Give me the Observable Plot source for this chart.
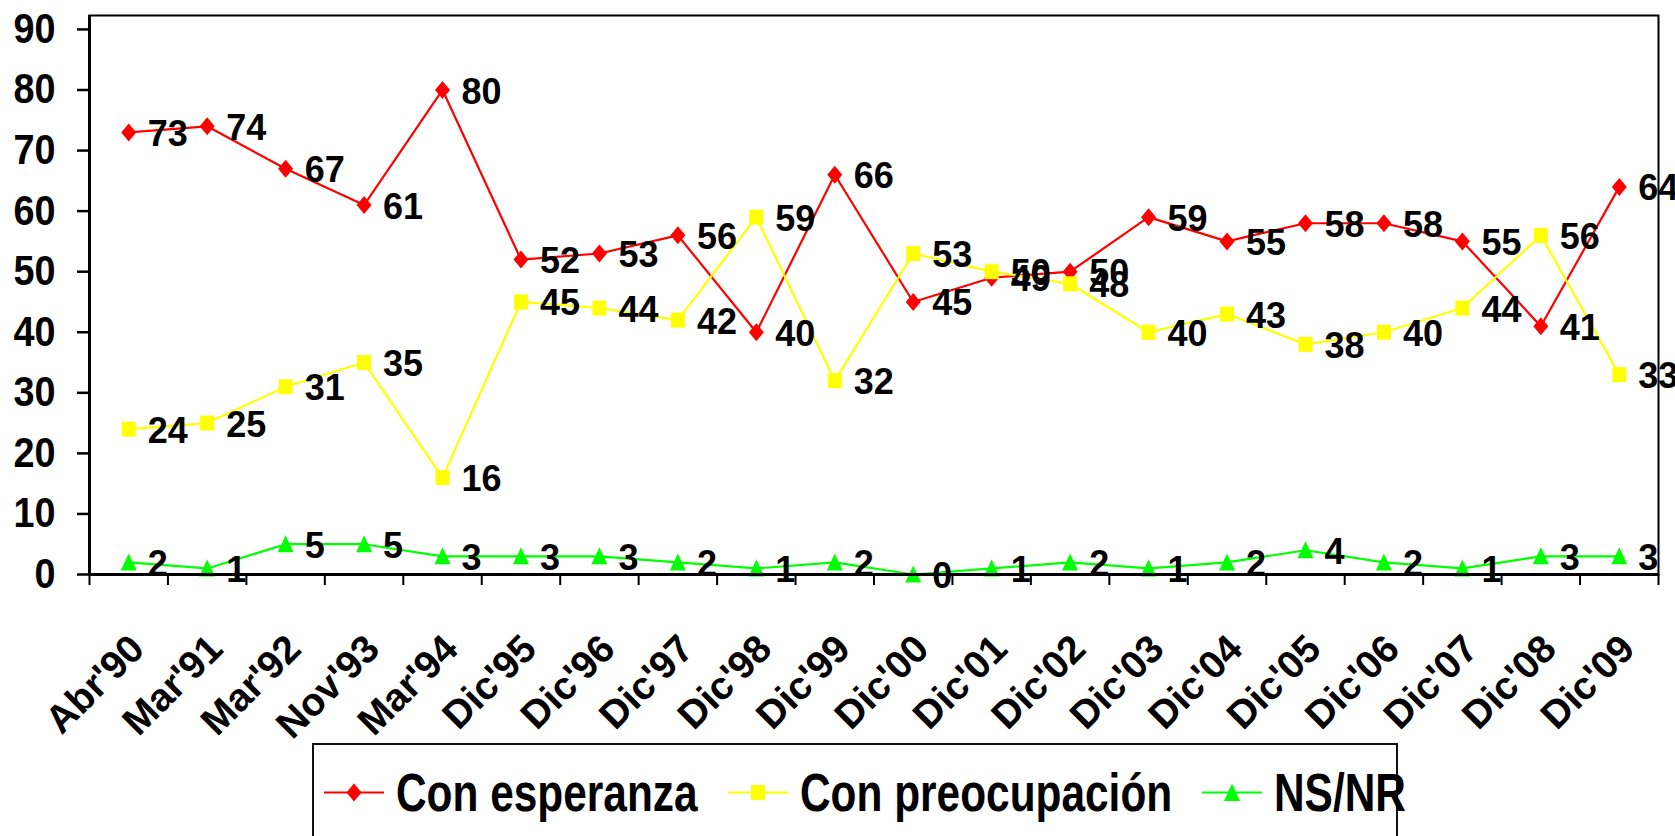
<!DOCTYPE html>
<html>
<head>
<meta charset="utf-8">
<script src="https://cdn.jsdelivr.net/npm/d3@7"></script>
<script src="https://cdn.jsdelivr.net/npm/@observablehq/plot@0.6"></script>
<style>
  html, body { margin: 0; padding: 0; background: #fff; width: 1675px; height: 836px; overflow: hidden; }
  #wrap { position: relative; width: 1675px; height: 836px; }
  #legend { position: absolute; left: 312px; top: 743px; width: 1086px; height: 130px; box-sizing: border-box;
    border: 2px solid #111; display: flex; align-items: flex-start; padding-left: 10px; padding-top: 21px;
    font-family: "Liberation Sans", Arial, sans-serif; font-weight: bold; font-size: 53px; line-height: 1; color: #000; }
  .item { display: flex; align-items: center; margin-right: 30px; height: 53px; }
  .item svg { margin-right: 12px; flex: none; }
  .item span { display: inline-block; transform: scaleX(0.8); transform-origin: left center; white-space: nowrap; }
</style>
</head>
<body>
<div id="wrap"><div id="chart"></div><div id="legend"></div></div>
<script>
const categories = ["Abr'90","Mar'91","Mar'92","Nov'93","Mar'94","Dic'95","Dic'96","Dic'97","Dic'98","Dic'99","Dic'00","Dic'01","Dic'02","Dic'03","Dic'04","Dic'05","Dic'06","Dic'07","Dic'08","Dic'09"];
const esperanza    = [73, 74, 67, 61, 80, 52, 53, 56, 40, 66, 45, 49, 50, 59, 55, 58, 58, 55, 41, 64];
const preocupacion = [24, 25, 31, 35, 16, 45, 44, 42, 59, 32, 53, 50, 48, 40, 43, 38, 40, 44, 56, 33];
const nsnr         = [2, 1, 5, 5, 3, 3, 3, 2, 1, 2, 0, 1, 2, 1, 2, 4, 2, 1, 3, 3];
const yTicks = [0, 10, 20, 30, 40, 50, 60, 70, 80, 90];
const seriesNames = ["Con esperanza", "Con preocupación", "NS/NR"];
const seriesColors = ["#FF0000", "#FFFF00", "#00FF00"];
const seriesValues = [esperanza, preocupacion, nsnr];

const FONT = '"Liberation Sans", Arial, sans-serif';

const diamond = { draw(ctx) { ctx.moveTo(0, -9); ctx.lineTo(7.5, 0); ctx.lineTo(0, 9); ctx.lineTo(-7.5, 0); ctx.closePath(); } };
const square = { draw(ctx) { ctx.moveTo(-7, -7.5); ctx.lineTo(7, -7.5); ctx.lineTo(7, 7.5); ctx.lineTo(-7, 7.5); ctx.closePath(); } };
const triangle = { draw(ctx) { ctx.moveTo(0, -9); ctx.lineTo(8, 8); ctx.lineTo(-8, 8); ctx.closePath(); } };
const symbols = [diamond, square, triangle];

const rows = seriesValues.map((vals, s) => categories.map((c, i) => ({ s, cat: c, x: i + 0.5, v: vals[i] })));

const marks = [
  Plot.frame({ stroke: "#000", strokeWidth: 2 }),
  Plot.axisY({ ticks: yTicks, tickSize: 12, tickPadding: 22, fontSize: 42, fontFamily: FONT, fontWeight: "bold", strokeWidth: 2.5, label: null, tickFormat: d => String(d) }),
  Plot.axisX({ ticks: d3.range(0, categories.length + 1), tickSize: 11, strokeWidth: 2, tickFormat: () => "", label: null }),
  Plot.text(categories, { x: (d, i) => i + 0.5, y: () => 0, text: d => d, rotate: -45, textAnchor: "end", lineAnchor: "top",
    dx: -2, dy: 57, fontSize: 39, fontFamily: FONT, fontWeight: "bold", fill: "#000", ariaLabel: "x label" })
];
rows.forEach((r, s) => {
  marks.push(Plot.line(r, { x: "x", y: "v", stroke: seriesColors[s], strokeWidth: 2.2 }));
});
rows.forEach((r, s) => {
  marks.push(Plot.dot(r, { x: "x", y: "v", symbol: symbols[s], r: 7, fill: seriesColors[s], stroke: "none" }));
});
rows.forEach((r, s) => {
  marks.push(Plot.text(r, { x: "x", y: "v", text: d => String(d.v), textAnchor: "start", dx: 19, dy: 2,
    fontSize: 36, fontFamily: FONT, fontWeight: "bold", fill: "#000", ariaLabel: "data label" }));
});
marks.push(Plot.ruleX([0], { stroke: "#000", strokeWidth: 3 }));
marks.push(Plot.ruleY([0], { stroke: "#000", strokeWidth: 3 }));

const chart = Plot.plot({
  width: 1675, height: 740,
  marginLeft: 89, marginRight: 17, marginTop: 15, marginBottom: 166,
  x: { type: "linear", domain: [0, categories.length], axis: null },
  y: { domain: [0, 92.3], axis: null },
  style: { background: "#fff", color: "#000", overflow: "visible" },
  marks
});
document.getElementById("chart").appendChild(chart);

// condense text horizontally (narrow bold look)
function condense(el, k) {
  const t = el.getAttribute("transform") || "";
  el.setAttribute("transform", (t + " scale(" + k + ",1)").trim());
  for (const n of [el, ...el.querySelectorAll("tspan")]) {
    const x = n.getAttribute("x");
    if (x != null && x !== "" && !isNaN(parseFloat(x))) n.setAttribute("x", String(parseFloat(x) / k));
  }
}
chart.querySelectorAll('g[aria-label="y-axis tick label"] text').forEach(el => condense(el, 0.9));
chart.querySelectorAll('g[aria-label="data label"] text').forEach(el => condense(el, 0.88));

const legend = document.getElementById("legend");
const shapes = [
  '<polygon points="30,6.5 37.5,15.5 30,24.5 22.5,15.5" fill="' + seriesColors[0] + '"/>',
  '<rect x="23" y="8" width="14" height="15" fill="' + seriesColors[1] + '"/>',
  '<polygon points="30,6.5 38,24 22,24" fill="' + seriesColors[2] + '"/>'
];
seriesNames.forEach((name, s) => {
  const item = document.createElement("div");
  item.className = "item";
  item.innerHTML = '<svg width="60" height="31"><line x1="0" x2="60" y1="15.5" y2="15.5" stroke="' + seriesColors[s] + '" stroke-width="2"/>' + shapes[s] + '</svg><span>' + name + '</span>';
  legend.appendChild(item);
  const span = item.querySelector("span");
  span.style.marginRight = (-(1 - 0.8) * span.offsetWidth) + "px";
});
</script>
</body>
</html>
